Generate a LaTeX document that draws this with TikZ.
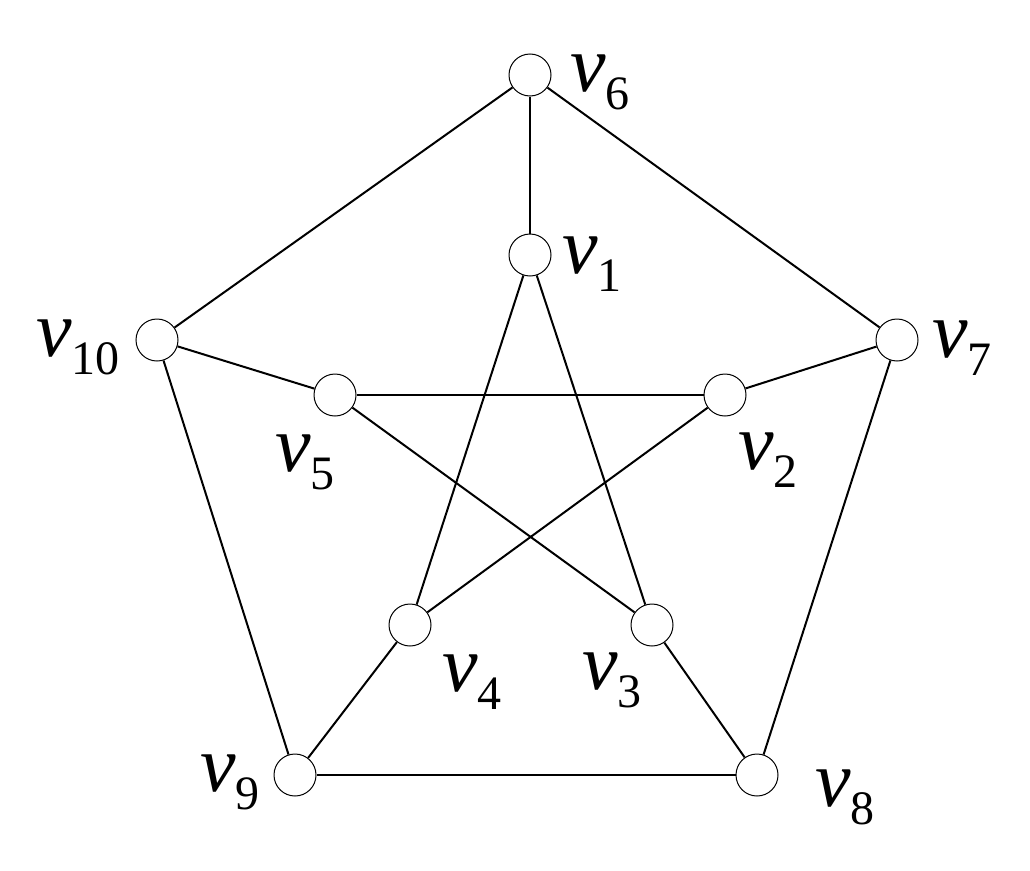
\documentclass[tikz,border=0pt]{standalone}
\usepackage{fontspec}
\setmainfont{Liberation Serif}
\newcommand{\lab}[1]{\fontsize{80}{80}\selectfont\textit{v}\raisebox{-18pt}{\fontsize{48}{48}\selectfont #1}}
\begin{document}
\begin{tikzpicture}[x=1pt,y=-1pt,
  vtx/.style={circle,draw,line width=1pt,minimum size=42pt,inner sep=0pt,fill=white},
  lbl/.style={inner sep=0pt,anchor=center},
  edge/.style={line width=2pt}]
\useasboundingbox (0,0) rectangle (1030,870);
\node[vtx] (v6) at (530,75) {};
\node[vtx] (v1) at (530,255) {};
\node[vtx] (v7) at (897,340) {};
\node[vtx] (v10) at (157,340) {};
\node[vtx] (v5) at (335,395) {};
\node[vtx] (v2) at (725,395) {};
\node[vtx] (v4) at (410,625) {};
\node[vtx] (v3) at (652,625) {};
\node[vtx] (v9) at (295,775) {};
\node[vtx] (v8) at (757,775) {};
\foreach \a/\b in {v6/v7,v7/v8,v8/v9,v9/v10,v10/v6,v6/v1,v7/v2,v8/v3,v9/v4,v10/v5,v1/v3,v3/v5,v5/v2,v2/v4,v4/v1}
  \draw[edge] (\a) -- (\b);
\node[lbl] (l6) at (600,82) {\lab{6}};
\node[lbl] (l1) at (592,264) {\lab{1}};
\node[lbl] (l7) at (962,348) {\lab{7}};
\node[lbl] (l10) at (78,347) {\lab{10}};
\node[lbl] (l5) at (305,462) {\lab{5}};
\node[lbl] (l2) at (768,460) {\lab{2}};
\node[lbl] (l4) at (472,682) {\lab{4}};
\node[lbl] (l3) at (612,680) {\lab{3}};
\node[lbl] (l9) at (230,782) {\lab{9}};
\node[lbl] (l8) at (845,797) {\lab{8}};
\end{tikzpicture}
\end{document}
